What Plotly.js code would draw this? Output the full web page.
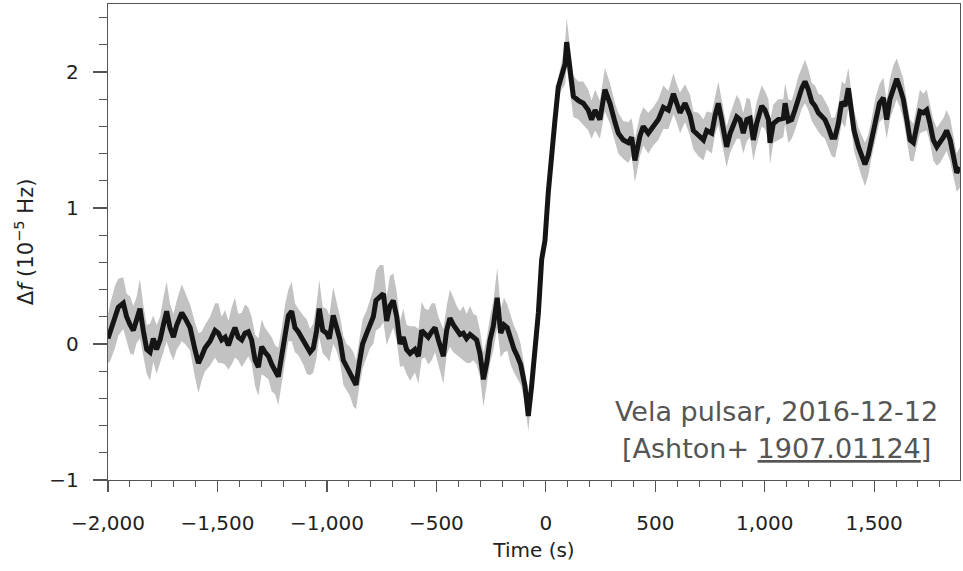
<!DOCTYPE html>
<html>
<head>
<meta charset="utf-8">
<script src="https://cdn.plot.ly/plotly-3.0.1.min.js"></script>
<style>html,body{margin:0;padding:0;background:#fff;}#chart{width:963px;height:571px;}</style>
</head>
<body>
<div id="chart"></div>
<script>
// Time (s) relative to glitch
const time = [
  -2000,-1991,-1968,-1953,-1930,-1915,-1899,-1884,-1869,-1854,
  -1839,-1823,-1808,-1793,-1778,-1762,-1747,-1732,-1717,-1701,
  -1686,-1663,-1648,-1625,-1603,-1587,-1572,-1557,-1534,-1511,
  -1496,-1481,-1465,-1450,-1435,-1420,-1405,-1389,-1374,-1359,
  -1344,-1328,-1313,-1298,-1283,-1267,-1252,-1237,-1222,-1207,
  -1191,-1176,-1161,-1146,-1131,-1108,-1092,-1077,
  -1062,-1047,-1035,-1019,-1001,-989,-971,-956,-940,-925,
  -910,-895,-879,-867,-852,-837,-818,-803,-788,-776,
  -758,-742,-727,-712,-697,-681,-666,-651,-636,-620,
  -598,-582,-567,-552,-537,-521,-506,-491,-468,-453,
  -438,-422,-407,-392,-377,-362,-346,-331,-316,-301,
  -285,-270,-255,-240,-222,-206,-191,-176,-161,-145,
  -130,-115,
  -95,-80,-65,-49,-34,-19,-4,11,27,42,
  57,72,88,95,110,126,149,171,194,209,
  225,247,270,293,316,331,354,377,392,407,
  430,445,468,491,514,537,560,583,598,613,
  636,659,674,697,720,735,758,773,788,803,
  826,842,
  857,872,887,902,918,933,948,963,986,1001,
  1017,1024,1039,1062,1085,1093,1108,1123,1138,1154,
  1169,1184,1199,1215,1230,1245,1260,1275,1291,1306,
  1321,1336,1352,1367,1382,1393,1408,1428,1443,1458,
  1473,1489,1504,1524,1542,1557,1572,1588,1603,1618,
  1633,1649,1664,1679,1694,1709,1725,1740,1755,1770,
  1786,1801,1816,1831,1847,1862,1877,1892
];
// Frequency offset (1e-5 Hz)
const deltaF = [
  0.04,0.08,0.20,0.27,0.30,0.20,0.14,0.10,0.18,0.26,
  0.10,-0.04,-0.06,0.04,-0.04,0.03,0.14,0.24,0.12,0.05,
  0.14,0.23,0.19,0.12,-0.04,-0.14,-0.09,-0.03,0.02,0.10,
  0.08,0.03,0.05,-0.01,0.06,0.12,0.05,0.03,0.08,0.09,
  0.03,-0.12,-0.17,-0.02,-0.06,-0.09,-0.15,-0.19,-0.24,-0.09,
  0.08,0.21,0.24,0.12,0.09,0.03,-0.02,-0.06,
  -0.03,0.10,0.26,0.10,0.08,0.04,0.21,0.13,0.03,-0.12,
  -0.17,-0.20,-0.26,-0.30,-0.14,0.00,0.08,0.15,0.20,0.32,
  0.35,0.37,0.17,0.28,0.32,0.20,0.00,0.05,-0.04,-0.07,
  -0.04,-0.09,0.10,0.08,0.05,0.09,0.12,0.03,-0.09,0.10,
  0.19,0.14,0.10,0.07,0.08,0.04,0.07,0.05,0.03,-0.07,
  -0.26,-0.14,0.03,0.13,0.34,0.08,0.14,0.12,0.03,-0.04,
  -0.09,-0.15,
  -0.31,-0.53,-0.31,-0.07,0.23,0.62,0.76,1.11,1.35,1.65,
  1.89,1.97,2.06,2.22,2.01,1.82,1.79,1.77,1.72,1.65,
  1.72,1.65,1.87,1.77,1.63,1.55,1.50,1.48,1.52,1.35,
  1.53,1.60,1.55,1.60,1.65,1.74,1.72,1.84,1.77,1.70,
  1.77,1.68,1.57,1.54,1.50,1.57,1.55,1.68,1.77,1.65,
  1.45,1.55,
  1.61,1.67,1.65,1.55,1.65,1.66,1.50,1.62,1.75,1.72,
  1.65,1.48,1.62,1.65,1.66,1.77,1.64,1.65,1.72,1.81,
  1.88,1.93,1.87,1.78,1.75,1.70,1.68,1.65,1.59,1.52,
  1.52,1.62,1.78,1.75,1.88,1.75,1.57,1.45,1.38,1.32,
  1.39,1.52,1.65,1.77,1.81,1.65,1.80,1.89,1.95,1.88,
  1.80,1.65,1.50,1.48,1.60,1.71,1.70,1.72,1.62,1.50,
  1.45,1.48,1.52,1.57,1.50,1.38,1.26,1.30
];
// Half-width of the grey uncertainty band (1e-5 Hz)
const bandHalfWidth = [
  0.18,0.21,0.23,0.21,0.19,0.17,0.21,0.18,0.17,0.22,
  0.19,0.18,0.21,0.17,0.18,0.17,0.20,0.22,0.18,0.17,
  0.18,0.21,0.19,0.17,0.20,0.22,0.18,0.17,0.18,0.20,
  0.22,0.17,0.20,0.18,0.21,0.22,0.17,0.20,0.21,0.18,
  0.17,0.19,0.21,0.20,0.18,0.17,0.20,0.18,0.21,0.20,
  0.21,0.19,0.22,0.18,0.17,0.18,0.20,0.17,
  0.18,0.20,0.21,0.17,0.18,0.17,0.21,0.18,0.17,0.18,
  0.17,0.18,0.20,0.18,0.17,0.18,0.17,0.18,0.20,0.22,
  0.23,0.21,0.18,0.22,0.20,0.18,0.17,0.21,0.18,0.20,
  0.17,0.20,0.21,0.18,0.20,0.21,0.18,0.17,0.20,0.18,
  0.21,0.20,0.18,0.17,0.20,0.18,0.21,0.17,0.18,0.17,
  0.20,0.18,0.17,0.18,0.22,0.18,0.20,0.17,0.18,0.17,
  0.17,0.15,
  0.12,0.11,0.08,0.05,0.04,0.04,0.04,0.04,0.04,0.05,
  0.07,0.10,0.15,0.18,0.16,0.15,0.14,0.16,0.15,0.14,
  0.15,0.14,0.16,0.15,0.14,0.15,0.14,0.15,0.14,0.16,
  0.15,0.14,0.15,0.14,0.15,0.16,0.14,0.15,0.14,0.15,
  0.14,0.15,0.14,0.16,0.15,0.14,0.15,0.14,0.16,0.15,
  0.15,0.14,
  0.15,0.16,0.14,0.15,0.16,0.14,0.15,0.16,0.15,0.14,
  0.15,0.16,0.14,0.15,0.14,0.15,0.16,0.14,0.15,0.16,
  0.15,0.16,0.15,0.14,0.15,0.14,0.15,0.14,0.15,0.14,
  0.15,0.14,0.15,0.16,0.15,0.14,0.15,0.14,0.15,0.16,
  0.15,0.14,0.15,0.14,0.15,0.14,0.15,0.16,0.15,0.14,
  0.15,0.14,0.15,0.14,0.15,0.16,0.14,0.15,0.14,0.15,
  0.14,0.15,0.14,0.15,0.16,0.15,0.14,0.15
];
const xTickVals = [-2000,-1500,-1000,-500,0,500,1000,1500];
const yTickVals = [-1,0,1,2];
const annoLine1 = 'Vela pulsar, 2016-12-12';
const annoLine2 = '[Ashton+ <span style="text-decoration:underline">1907.01124</span>]';

const upper = deltaF.map((v,i)=>v+bandHalfWidth[i]);
const lower = deltaF.map((v,i)=>v-bandHalfWidth[i]);

const FONT = 'DejaVu Sans, Liberation Sans, Arial, sans-serif';

const band = {
  x: time.concat(time.slice().reverse()),
  y: upper.concat(lower.slice().reverse()),
  type: 'scatter', mode: 'lines', fill: 'toself',
  fillcolor: '#c2c2c2', line: {width: 0, color: '#c2c2c2'},
  hoverinfo: 'skip', showlegend: false
};
const line = {
  x: time, y: deltaF, type: 'scatter', mode: 'lines',
  line: {color: '#151515', width: 5}, showlegend: false
};

const axCommon = {
  showgrid: false, zeroline: false, showline: true, mirror: true,
  linecolor: '#555', linewidth: 1.2, ticks: 'outside', tickcolor: '#555',
  tickwidth: 1.2, tickfont: {family: FONT, size: 20, color: '#222'}
};

const layout = {
  width: 963, height: 571,
  margin: {l: 108, r: 3, t: 4, b: 91},
  paper_bgcolor: '#fff', plot_bgcolor: '#fff',
  separators: '.,',
  xaxis: Object.assign({}, axCommon, {
    range: [-2000, 1892], tickmode: 'array', tickvals: xTickVals,
    tickformat: ',d', ticklen: 11, ticklabelstandoff: 14,
    minor: {dtick: 100, tick0: 0, ticks: 'outside', ticklen: 6, tickcolor: '#555', tickwidth: 1},
    title: {text: 'Time (s)', font: {family: FONT, size: 20, color: '#222'}, standoff: 8},
    automargin: false
  }),
  yaxis: Object.assign({}, axCommon, {
    range: [-1, 2.5], tickmode: 'array', tickvals: yTickVals,
    ticklen: 14, ticklabelstandoff: 10,
    minor: {dtick: 0.2, tick0: 0, ticks: 'outside', ticklen: 8, tickcolor: '#555', tickwidth: 1},
    title: {text: 'Δ<i>f</i> (10<sup>−5</sup> Hz)', font: {family: FONT, size: 21, color: '#222'}, standoff: 10},
    automargin: false
  }),
  annotations: [
    {xref: 'paper', yref: 'paper', x: 0.785, y: 0.143, xanchor: 'center', yanchor: 'middle',
     text: annoLine1, showarrow: false, font: {family: FONT, size: 27, color: '#555'}},
    {xref: 'paper', yref: 'paper', x: 0.785, y: 0.067, xanchor: 'center', yanchor: 'middle',
     text: annoLine2, showarrow: false, font: {family: FONT, size: 27, color: '#555'}}
  ]
};

Plotly.newPlot('chart', [band, line], layout, {staticPlot: true, displayModeBar: false});
</script>
</body>
</html>
